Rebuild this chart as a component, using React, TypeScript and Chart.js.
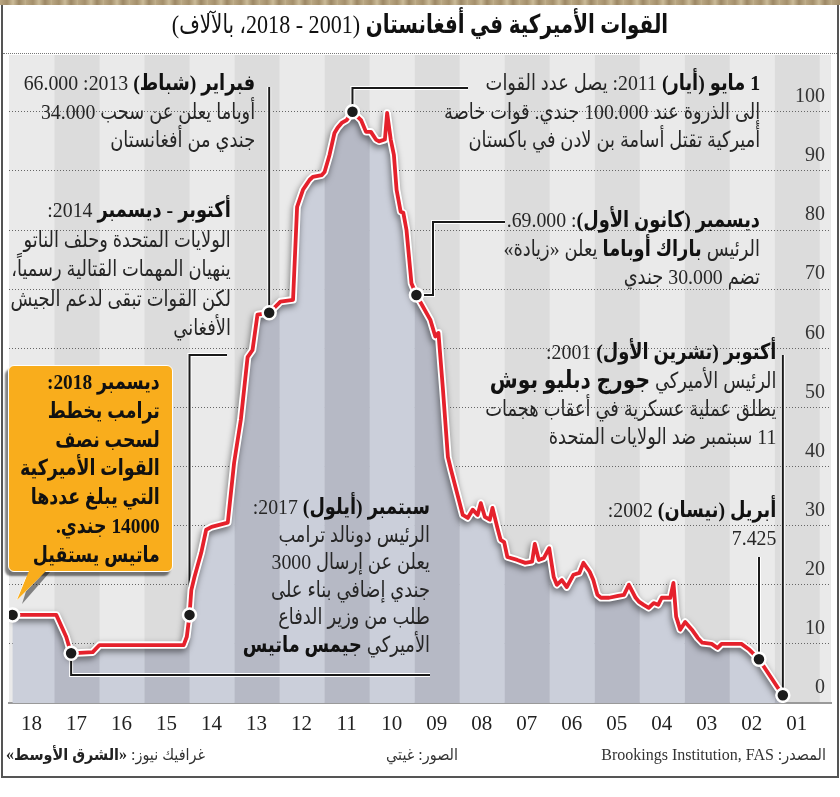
import React, { useEffect, useRef } from "react";
import { Chart, registerables } from "chart.js";
Chart.register(...registerables);

// ---------- DATA (US troops in Afghanistan, thousands) ----------
const dates = [
  2001.81, 2002.34, 2002.55, 2002.73, 2003.17, 2003.26, 2003.39, 2003.6, 2003.7, 2003.83,
  2003.98, 2004.09, 2004.18, 2004.24, 2004.31, 2004.5, 2004.58, 2004.68, 2004.79, 2004.9,
  2005.0, 2005.08, 2005.23, 2005.34, 2005.47, 2005.67, 2005.85, 2005.93, 2006.02, 2006.1,
  2006.24, 2006.33, 2006.46, 2006.61, 2006.72, 2006.83, 2006.9, 2007.0, 2007.12, 2007.23,
  2007.32, 2007.38, 2007.53, 2007.71, 2007.93, 2008.0, 2008.08, 2008.15, 2008.26, 2008.32,
  2008.43, 2008.52, 2008.59, 2008.7, 2008.81, 2008.92, 2009.18, 2009.25, 2009.36, 2009.46,
  2009.53, 2009.64, 2009.95, 2010.06, 2010.17, 2010.24, 2010.3, 2010.39, 2010.45, 2010.52,
  2010.6, 2010.65, 2010.78, 2010.85, 2010.96, 2011.07, 2011.18, 2011.37, 2011.5, 2011.61,
  2011.7, 2011.77, 2011.88, 2011.99, 2012.05, 2012.25, 2012.32, 2012.4, 2012.47, 2012.6,
  2012.69, 2012.97, 2013.22, 2013.48, 2013.59, 2013.7, 2013.85, 2014.0, 2014.14, 2014.5,
  2014.62, 2014.73, 2014.88, 2014.95, 2014.99, 2015.05, 2015.12, 2016.99, 2017.14, 2017.62,
  2017.73, 2017.95, 2018.92,
];
const troops = [
  1.3, 7.4, 9.0, 10.0, 10.0, 9.3, 10.0, 10.2, 11.0, 12.4,
  13.7, 12.4, 14.6, 20.3, 17.8, 17.8, 16.6, 16.9, 16.1, 16.6,
  17.1, 17.8, 20.0, 18.3, 18.1, 17.8, 17.8, 18.3, 20.8, 22.2,
  23.7, 22.0, 21.7, 19.6, 20.8, 20.0, 21.3, 26.2, 24.5, 24.2,
  26.9, 23.9, 23.7, 24.2, 24.7, 27.2, 27.6, 29.6, 33.0, 31.0,
  31.5, 33.8, 31.8, 32.7, 31.3, 31.8, 39.4, 41.6, 53.0, 62.6,
  62.0, 64.8, 69.0, 71.0, 80.0, 82.9, 83.1, 86.8, 92.7, 95.3,
  99.8, 95.3, 95.0, 95.3, 96.6, 96.6, 98.6, 100.0, 98.6, 98.1,
  97.3, 96.4, 92.7, 89.8, 89.3, 89.0, 88.5, 87.6, 86.8, 83.9,
  68.2, 67.9, 66.0, 65.7, 59.7, 58.5, 47.9, 40.6, 30.5, 29.8,
  29.3, 25.4, 21.3, 19.1, 14.9, 11.2, 9.8, 9.8, 8.6, 8.4,
  11.2, 14.9, 14.9,
];
const markerDates = [2001.81, 2002.34, 2009.95, 2011.37, 2013.22, 2014.99, 2017.62, 2018.92];
const yearStarts = [2001, 2002, 2003, 2004, 2005, 2006, 2007, 2008, 2009, 2010, 2011, 2012, 2013, 2014, 2015, 2016, 2017, 2018];
const yearLabels = ["01", "02", "03", "04", "05", "06", "07", "08", "09", "10", "11", "12", "13", "14", "15", "16", "17", "18"];

// leader lines: fixed anchor points near text, ending at the marker of the given date
const leaders: { date: number; path: (mx: number, my: number) => number[][] }[] = [
  { date: 2013.22, path: (mx, my) => [[mx, 87], [mx, my]] },
  { date: 2014.99, path: (mx, my) => [[227, 355], [mx, 355], [mx, my]] },
  { date: 2017.62, path: (mx, my) => [[430, 675], [mx, 675], [mx, my]] },
  { date: 2011.37, path: (mx, my) => [[468, 88], [mx, 88], [mx, my]] },
  { date: 2009.95, path: (mx, my) => [[505, 222], [433, 222], [433, my], [mx, my]] },
  { date: 2001.81, path: (mx, my) => [[mx, 355], [mx, my]] },
  { date: 2002.34, path: (mx, my) => [[mx, 557], [mx, my]] },
];

const AR = '"Liberation Serif", "DejaVu Sans Condensed", "DejaVu Sans", sans-serif';
const NUM = '"Liberation Serif", serif';
const RED = 0;
const WHITE = 1;

const bgPlugin = {
  id: "bgStripes",
  beforeDraw(chart: any) {
    const { ctx, chartArea: a, scales } = chart;
    const x = scales.x;
    ctx.save();
    ctx.beginPath();
    ctx.rect(a.left, a.top, a.right - a.left, a.bottom - a.top);
    ctx.clip();
    [2000, ...yearStarts].forEach((b) => {
      const x1 = x.getPixelForValue(b);
      const x2 = x.getPixelForValue(b + 1);
      ctx.fillStyle = b % 2 ? "#dcdcdc" : "#eaeaea";
      ctx.fillRect(Math.min(x1, x2), a.top, Math.abs(x2 - x1) + 0.5, a.bottom - a.top);
    });
    ctx.restore();
  },
  beforeDatasetsDraw(chart: any) {
    const { ctx, chartArea: a, scales } = chart;
    const x = scales.x;
    const y = scales.y;
    const pts = chart.getDatasetMeta(RED).data;
    const y0 = y.getPixelForValue(0);
    ctx.save();
    ctx.beginPath();
    ctx.moveTo(pts[0].x, y0);
    pts.forEach((p: any) => ctx.lineTo(p.x, p.y));
    ctx.lineTo(pts[pts.length - 1].x, y0);
    ctx.closePath();
    ctx.clip();
    [2000, ...yearStarts].forEach((b) => {
      const x1 = x.getPixelForValue(b);
      const x2 = x.getPixelForValue(b + 1);
      ctx.fillStyle = b % 2 ? "#b6b9c5" : "#cbcfda";
      ctx.fillRect(Math.min(x1, x2), a.top, Math.abs(x2 - x1) + 0.5, a.bottom - a.top);
    });
    ctx.restore();
    // leader lines
    ctx.save();
    ctx.lineJoin = "miter";
    leaders.forEach((l) => {
      const p = pts[dates.indexOf(l.date)];
      const path = l.path(p.x, p.y);
      [["#ffffff", 4], ["#1a1a1a", 2]].forEach(([c, w]) => {
        ctx.strokeStyle = c as string;
        ctx.lineWidth = w as number;
        ctx.beginPath();
        path.forEach((q, k) => (k ? ctx.lineTo(q[0], q[1]) : ctx.moveTo(q[0], q[1])));
        ctx.stroke();
      });
    });
    ctx.restore();
  },
  beforeDatasetDraw(chart: any, args: any) {
    if (args.index === WHITE) {
      const ctx = chart.ctx;
      ctx.save();
      ctx.shadowColor = "rgba(0,0,0,0.5)";
      ctx.shadowBlur = 6;
      ctx.shadowOffsetX = -1;
      ctx.shadowOffsetY = 3;
    }
  },
  afterDatasetDraw(chart: any, args: any) {
    if (args.index === WHITE) chart.ctx.restore();
  },
};

type Seg = [string, boolean?, number?];
function Block(props: { right: number; top: number; lh: number; size: number; scale?: number; lines: Seg[][]; color?: string; bold?: boolean }) {
  const { right, top, lh, size, scale = 0.9, lines, color = "#262626" } = props;
  return (
    <div
      style={{
        position: "absolute",
        right: 840 - right,
        top,
        direction: "rtl",
        textAlign: "right",
        whiteSpace: "nowrap",
        fontFamily: AR,
        fontSize: size,
        lineHeight: lh + "px",
        color,
        transform: `scaleX(${scale})`,
        transformOrigin: "right top",
      }}
    >
      {lines.map((ln, i) => (
        <div key={i}>
          {ln.map((s, j) => (
            <span key={j} style={{ fontWeight: s[1] || props.bold ? 700 : 400, color: s[1] || props.bold ? "#111" : color, fontSize: s[2] || undefined }}>
              {s[0]}
            </span>
          ))}
        </div>
      ))}
    </div>
  );
}

const footStyle: React.CSSProperties = { position: "absolute", top: 745, direction: "rtl", whiteSpace: "nowrap", fontFamily: AR, fontSize: 16, lineHeight: "20px", color: "#333" };

export default function App() {
  const ref = useRef<HTMLCanvasElement>(null);
  useEffect(() => {
    const pts = dates.map((d, i) => ({ x: d, y: troops[i] }));
    const chart = new Chart(ref.current as HTMLCanvasElement, {
      type: "line",
      data: {
        datasets: [
          {
            data: pts,
            borderColor: "#e5212c",
            borderWidth: 3.8,
            fill: false,
            tension: 0,
            borderJoinStyle: "round",
            pointRadius: (c: any) => (markerDates.includes(dates[c.dataIndex]) ? 6.5 : 0),
            pointBackgroundColor: "#1b1b1b",
            pointBorderColor: "#ffffff",
            pointBorderWidth: 2.5,
          },
          { data: pts, borderColor: "#ffffff", borderWidth: 7.5, pointRadius: 0, fill: false, tension: 0, borderJoinStyle: "round" },
        ],
      },
      options: {
        animation: false,
        responsive: false,
        devicePixelRatio: 1,
        layout: { padding: { left: 4, right: 2, top: 55, bottom: 0 } },
        plugins: { legend: { display: false }, tooltip: { enabled: false } },
        events: [],
        scales: {
          x: {
            type: "linear",
            reverse: true,
            min: 2000.74,
            max: 2019,
            afterBuildTicks: (s: any) => {
              s.ticks = yearStarts.map((v) => ({ value: v + 0.5 }));
            },
            afterFit: (s: any) => {
              s.height = 94;
            },
            ticks: {
              callback: (_v: any, i: number) => yearLabels[i],
              font: { family: NUM, size: 21 },
              color: "#222",
              padding: 1,
              maxRotation: 0,
              autoSkip: false,
            },
            grid: { display: false },
            border: { display: true, color: "#9a9a9a", width: 2 },
          },
          y: {
            position: "right",
            min: 0,
            max: 109.6,
            afterFit: (s: any) => {
              s.width = 0;
            },
            ticks: {
              stepSize: 10,
              includeBounds: false,
              mirror: true,
              padding: -6,
              labelOffset: -15,
              font: { family: NUM, size: 20 },
              color: "#333",
            },
            grid: { color: "#666", lineWidth: 1, drawTicks: false },
            border: { display: false, dash: [1, 2] },
          },
        },
      },
      plugins: [bgPlugin],
    } as any);
    return () => chart.destroy();
  }, []);

  return (
    <div style={{ position: "absolute", left: 0, top: 0, width: 840, height: 797, background: "#fff", overflow: "hidden" }}>
      <canvas ref={ref} width={840} height={797} style={{ position: "absolute", left: 0, top: 0, width: 840, height: 797 }} />
      {/* frame */}
      <div style={{ position: "absolute", left: 0, top: 0, width: 840, height: 5, background: "repeating-linear-gradient(90deg,#b9a682 0px,#a48f6b 7px,#cbbb98 13px,#9c8764 19px,#c2b18d 26px)" }} />
      <div style={{ position: "absolute", left: 1, top: 5, width: 2, height: 772, background: "#555" }} />
      <div style={{ position: "absolute", left: 837, top: 5, width: 2, height: 772, background: "#555" }} />
      <div style={{ position: "absolute", left: 1, top: 776, width: 838, height: 2, background: "#555" }} />
      <div style={{ position: "absolute", left: 3, top: 53, width: 834, height: 0, borderTop: "1px dotted #777" }} />
      {/* title */}
      <div style={{ position: "absolute", left: 0, width: 840, top: 8, textAlign: "center", direction: "rtl", fontFamily: AR, fontSize: 26, lineHeight: "34px", color: "#111", whiteSpace: "nowrap" }}>
        <span style={{ display: "inline-block", transform: "scaleX(0.85)" }}>
          <span style={{ fontWeight: 700 }}>القوات الأميركية في أفغانستان</span>
          <span> (2001 - 2018، بالآلاف)</span>
        </span>
      </div>

      {/* annotations */}
      <Block right={255} top={69} lh={28.5} size={22} lines={[
        [["فبراير (شباط)", true], [" 2013: 66.000"]],
        [["أوباما يعلن عن سحب 34.000"]],
        [["جندي من أفغانستان"]],
      ]} />
      <Block right={231} top={195} lh={29.5} size={22} lines={[
        [["أكتوبر - ديسمبر", true], [" 2014:"]],
        [["الولايات المتحدة وحلف الناتو"]],
        [["ينهيان المهمات القتالية رسمياً،"]],
        [["لكن القوات تبقى لدعم الجيش"]],
        [["الأفغاني"]],
      ]} />
      <Block right={760} top={69} lh={28.5} size={22} lines={[
        [["1 مايو (أيار)", true], [" 2011: يصل عدد القوات"]],
        [["إلى الذروة عند 100.000 جندي. قوات خاصة"]],
        [["أميركية تقتل أسامة بن لادن في باكستان"]],
      ]} />
      <Block right={760} top={206} lh={28.5} size={22} lines={[
        [["ديسمبر (كانون الأول)", true], [": 69.000."]],
        [["الرئيس "], ["باراك أوباما", true], [" يعلن «زيادة»"]],
        [["تضم 30.000 جندي"]],
      ]} />
      <Block right={776} top={338} lh={28} size={22} lines={[
        [["أكتوبر (تشرين الأول)", true], [" 2001:"]],
        [["الرئيس الأميركي "], ["جورج دبليو بوش", true, 25]],
        [["يطلق عملية عسكرية في أعقاب هجمات"]],
        [["11 سبتمبر ضد الولايات المتحدة"]],
      ]} />
      <Block right={776} top={496} lh={28} size={22} lines={[
        [["أبريل (نيسان)", true], [" 2002:"]],
        [["7.425"]],
      ]} />
      <Block right={430} top={493} lh={27.6} size={22} lines={[
        [["سبتمبر (أيلول)", true], [" 2017:"]],
        [["الرئيس دونالد ترامب"]],
        [["يعلن عن إرسال 3000"]],
        [["جندي إضافي بناء على"]],
        [["طلب من وزير الدفاع"]],
        [["الأميركي "], ["جيمس ماتيس", true]],
      ]} />

      {/* yellow callout */}
      <svg width={60} height={50} style={{ position: "absolute", left: 0, top: 562, overflow: "visible" }}>
        <polygon points="32,10 50,10 22,42" fill="rgba(0,0,0,0.45)" />
        <polygon points="29,8 46,8 17,38" fill="#f9ad1c" stroke="#fff" strokeWidth={1} />
      </svg>
      <div style={{ position: "absolute", left: 8, top: 365, width: 165, height: 207, boxSizing: "border-box", background: "#f9ad1c", borderRadius: 6, border: "1.5px solid #fff", boxShadow: "-3px 4px 2px rgba(0,0,0,0.5)" }} />
      <svg width={60} height={50} style={{ position: "absolute", left: 0, top: 562, overflow: "visible" }}>
        <polygon points="29,9 46,9 17,38" fill="#f9ad1c" />
      </svg>
      <Block right={160} top={368} lh={28.8} size={22} scale={0.88} bold color="#111" lines={[
        [["ديسمبر 2018:"]],
        [["ترامب يخطط"]],
        [["لسحب نصف"]],
        [["القوات الأميركية"]],
        [["التي يبلغ عددها"]],
        [["14000 جندي."]],
        [["ماتيس يستقيل"]],
      ]} />

      {/* footer */}
      <div style={{ ...footStyle, right: 840 - 826 }}>المصدر: Brookings Institution, FAS</div>
      <div style={{ ...footStyle, right: 840 - 458 }}>الصور: غيتي</div>
      <div style={{ ...footStyle, right: 840 - 205 }}>
        غرافيك نيوز: <b style={{ color: "#222" }}>«الشرق الأوسط»</b>
      </div>
    </div>
  );
}
